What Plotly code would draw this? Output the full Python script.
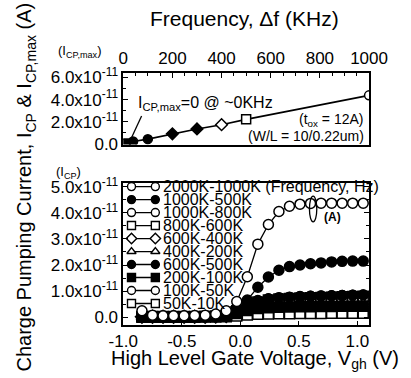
import plotly.graph_objects as go

# ---------------- data ----------------
# top panel: I_CP,max versus frequency difference
freq_khz = [10, 40, 100, 200, 300, 400, 500, 1000]
icp_max = [0.05e-11, 0.22e-11, 0.44e-11, 0.92e-11, 1.36e-11, 1.74e-11, 2.22e-11, 4.38e-11]
top_symbols = ["square", "circle", "circle", "diamond", "diamond", "diamond", "square", "circle"]
top_fill = ["black", "black", "black", "black", "black", "white", "white", "white"]

# bottom panel: I_CP versus high level gate voltage
vgh = [-0.84, -0.75, -0.66, -0.57, -0.48, -0.39, -0.30, -0.21, -0.12, -0.03, 0.06,
       0.15, 0.24, 0.33, 0.42, 0.51, 0.60, 0.69, 0.78, 0.87, 0.96, 1.05]

series_names = ["2000K-1000K (Frequency, Hz)", "1000K-500K", "1000K-800K", "800K-600K",
                "600K-400K", "400K-200K", "600K-500K", "200K-100K", "100K-50K", "50K-10K"]
series_symbols = ["circle", "circle", "circle", "square", "diamond", "triangle-up",
                  "circle", "square", "circle", "square"]
series_fill = ["white", "black", "white", "white", "white", "white",
               "black", "black", "white", "white"]

s_2000_1000 = [0.25, 0.08, 0.06, 0.06, 0.06, 0.07, 0.08, 0.12, 0.25, 0.60, 1.55,
               2.80, 3.55, 4.05, 4.25, 4.33, 4.36, 4.37, 4.37, 4.37, 4.37, 4.37]
s_1000_500 = [0.05, 0.05, 0.05, 0.05, 0.05, 0.05, 0.05, 0.07, 0.12, 0.28, 0.66,
              1.15, 1.54, 1.80, 1.94, 2.00, 2.05, 2.08, 2.12, 2.14, 2.15, 2.15]
s_1000_800 = [0.03, 0.03, 0.03, 0.03, 0.03, 0.03, 0.04, 0.05, 0.10, 0.28, 0.48,
              0.62, 0.70, 0.74, 0.76, 0.78, 0.80, 0.81, 0.82, 0.83, 0.84, 0.85]
s_800_600 = [0.02, 0.02, 0.02, 0.02, 0.02, 0.02, 0.03, 0.04, 0.08, 0.25, 0.45,
             0.58, 0.66, 0.70, 0.72, 0.74, 0.75, 0.76, 0.77, 0.78, 0.79, 0.80]
s_600_400 = [0.02, 0.02, 0.02, 0.02, 0.02, 0.02, 0.02, 0.03, 0.05, 0.15, 0.28,
             0.35, 0.38, 0.40, 0.41, 0.42, 0.43, 0.43, 0.44, 0.44, 0.45, 0.45]
s_400_200 = [0.01, 0.01, 0.01, 0.01, 0.01, 0.01, 0.01, 0.02, 0.03, 0.07, 0.12,
             0.15, 0.17, 0.18, 0.18, 0.19, 0.19, 0.19, 0.20, 0.20, 0.20, 0.20]
s_600_500 = [0.04, 0.04, 0.04, 0.04, 0.04, 0.04, 0.04, 0.05, 0.10, 0.30, 0.50,
             0.64, 0.71, 0.75, 0.77, 0.79, 0.80, 0.81, 0.82, 0.83, 0.84, 0.85]
s_200_100 = [0.03, 0.03, 0.03, 0.03, 0.03, 0.03, 0.03, 0.03, 0.05, 0.14, 0.26,
             0.33, 0.36, 0.38, 0.39, 0.40, 0.40, 0.41, 0.41, 0.42, 0.42, 0.42]
s_100_50 = [0.01, 0.01, 0.01, 0.01, 0.01, 0.01, 0.01, 0.02, 0.03, 0.08, 0.13,
            0.17, 0.19, 0.20, 0.20, 0.21, 0.21, 0.21, 0.22, 0.22, 0.22, 0.22]
s_50_10 = [0.00, 0.00, 0.00, 0.00, 0.00, 0.00, 0.01, 0.01, 0.02, 0.05, 0.09,
           0.11, 0.12, 0.13, 0.13, 0.14, 0.14, 0.14, 0.15, 0.15, 0.15, 0.15]
series_values = [s_2000_1000, s_1000_500, s_1000_800, s_800_600, s_600_400,
                 s_400_200, s_600_500, s_200_100, s_100_50, s_50_10]
value_scale = 1e-11

top_y_ticks = [0, 2e-11, 4e-11, 6e-11]
top_y_text = ["0.0", "2.0x10<sup>-11</sup>", "4.0x10<sup>-11</sup>", "6.0x10<sup>-11</sup>"]
top_x_ticks = [0, 200, 400, 600, 800, 1000]
bot_y_ticks = [0, 1e-11, 2e-11, 3e-11, 4e-11, 5e-11]
bot_y_text = ["0.0", "1.0x10<sup>-11</sup>", "2.0x10<sup>-11</sup>", "3.0x10<sup>-11</sup>",
              "4.0x10<sup>-11</sup>", "5.0x10<sup>-11</sup>"]
bot_x_ticks = [-1.0, -0.5, 0.0, 0.5, 1.0]
bot_x_text = ["-1.0", "-0.5", "0.0", "0.5", "1.0"]

# ---------------- layout helpers ----------------
W, H = 411, 378
FONT = "Liberation Sans, Arial, sans-serif"
PL, PR = 118, 386          # plot left/right in px
TOP_T, TOP_B = 68, 143     # top panel top/bottom px
BOT_T, BOT_B = 183, 332    # bottom panel top/bottom px


def px(x):
    return x / W


def py(y):
    return 1 - y / H


fig = go.Figure()

# top panel
fig.add_trace(go.Scatter(
    x=freq_khz, y=icp_max, mode="lines+markers", xaxis="x", yaxis="y",
    line=dict(color="black", width=1.6),
    marker=dict(symbol=top_symbols, color=top_fill, size=9,
                line=dict(color="black", width=1.5)),
    showlegend=False, hoverinfo="skip"))

# bottom panel: open-marker curves first, filled ones on top (as in the scan)
order = [i for i in range(len(series_names)) if series_fill[i] == "white" and i != 0] + \
        [i for i in range(len(series_names)) if series_fill[i] == "black"] + [0]
for i in order:
    fig.add_trace(go.Scatter(
        x=vgh, y=[v * value_scale for v in series_values[i]], mode="lines+markers",
        xaxis="x2", yaxis="y2", name=series_names[i],
        line=dict(color="black", width=1.3),
        marker=dict(symbol=series_symbols[i], color=series_fill[i], size=10,
                    line=dict(color="black", width=1.5)),
        showlegend=False, hoverinfo="skip"))

# hand-drawn legend keys (overlay axes in panel fractions)
row0, drow = 187, 13.6
for i, (name, sym, fill) in enumerate(zip(series_names, series_symbols, series_fill)):
    yy = (BOT_B - (row0 + i * drow)) / (BOT_B - BOT_T)
    fig.add_trace(go.Scatter(
        x=[(127 - PL) / (PR - PL), (153 - PL) / (PR - PL)], y=[yy, yy],
        mode="lines+markers", xaxis="x3", yaxis="y3",
        line=dict(color="black", width=1.3),
        marker=dict(symbol=sym, color=fill, size=8, line=dict(color="black", width=1.4)),
        showlegend=False, hoverinfo="skip"))
    fig.add_annotation(x=(159 - PL) / (PR - PL), y=yy, xref="x3", yref="y3",
                       text=name, showarrow=False, xanchor="left", yanchor="middle",
                       font=dict(family=FONT, size=16, color="black"))

axis_common = dict(showline=True, linecolor="black", linewidth=1.5, mirror=True,
                   showgrid=False, zeroline=False, ticks="inside", tickcolor="black",
                   tickwidth=1.2, color="black")

fig.update_layout(
    width=W, height=H, margin=dict(l=0, r=0, t=0, b=0),
    paper_bgcolor="white", plot_bgcolor="white", showlegend=False,
    font=dict(family=FONT, color="black"),
    xaxis=dict(domain=[px(PL), px(PR)], anchor="y", side="top", range=[0, 1000],
               tickvals=top_x_ticks, ticklen=5,
               minor=dict(ticks="inside", ticklen=3, dtick=50, tickcolor="black"),
               tickfont=dict(family=FONT, size=17), **axis_common),
    yaxis=dict(domain=[py(TOP_B), py(TOP_T)], anchor="x", range=[-0.05e-11, 6.4e-11],
               tickvals=top_y_ticks, ticktext=top_y_text, ticklen=5,
               minor=dict(ticks="inside", ticklen=3, dtick=1e-11, tickcolor="black"),
               tickfont=dict(family=FONT, size=17), **axis_common),
    xaxis2=dict(domain=[px(PL), px(PR)], anchor="y2", range=[-1.0, 1.1],
                tickvals=bot_x_ticks, ticktext=bot_x_text, ticklen=4,
                tickfont=dict(family=FONT, size=17), **axis_common),
    yaxis2=dict(domain=[py(BOT_B), py(BOT_T)], anchor="x2", range=[-0.3e-11, 5.15e-11],
                tickvals=bot_y_ticks, ticktext=bot_y_text, ticklen=5,
                minor=dict(ticks="inside", ticklen=3, dtick=0.5e-11, tickcolor="black"),
                tickfont=dict(family=FONT, size=17),
                **{**axis_common, "mirror": "ticks"}),
    xaxis3=dict(overlaying="x2", range=[0, 1], visible=False, anchor="y3"),
    yaxis3=dict(overlaying="y2", range=[0, 1], visible=False, anchor="x3"),
)


def note(x, y, text, size, xanchor="center", angle=0):
    fig.add_annotation(x=px(x), y=py(y), xref="paper", yref="paper", text=text,
                       showarrow=False, xanchor=xanchor, yanchor="middle",
                       textangle=angle, font=dict(family=FONT, size=size, color="black"))


note(250, 11, "Frequency, \u0394f (KHz)", 21)
note(262, 368, "High Level Gate Voltage, V<sub>gh</sub> (V)", 20)
note(12, 188, "Charge Pumping Current, I<sub>CP</sub> &amp; I<sub>CP,max</sub> (A)", 20,
     angle=-90)
note(70, 46, "(I<sub>CP,max</sub>)", 13)
note(58, 172, "(I<sub>CP</sub>)", 13)
note(132, 100, "I<sub>CP,max</sub>=0 @ ~0KHz", 16, xanchor="left")
note(382, 117, "(t<sub>ox</sub> = 12A)", 14, xanchor="right")
note(383, 134, "(W/L = 10/0.22um)", 14, xanchor="right")
note(346, 219, "<b>(A)</b>", 12)

fig.add_shape(type="line", xref="paper", yref="paper",
              x0=px(125), y0=py(140), x1=px(138), y1=py(113),
              line=dict(color="black", width=1.3))
fig.add_shape(type="circle", xref="paper", yref="paper",
              x0=px(321), y0=py(197), x1=px(329), y1=py(224),
              line=dict(color="black", width=1.3))

fig.write_html("out.html")
